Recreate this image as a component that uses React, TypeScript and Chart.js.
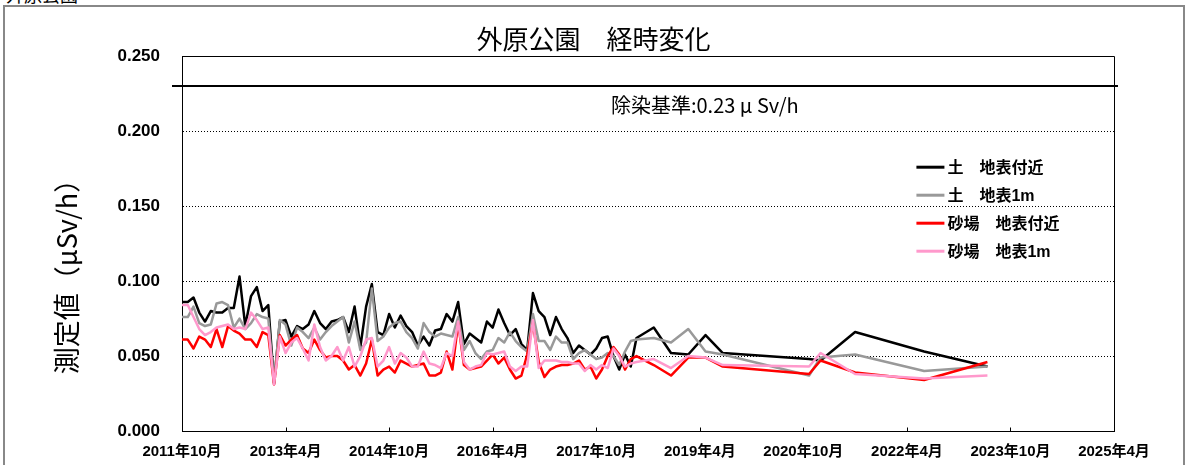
import React, { useEffect, useRef } from "react";
import { Chart, registerables } from "chart.js";

Chart.register(...registerables);

const PAGE_TITLE = "外原公園";
const CHART_TITLE = "外原公園　経時変化";
const Y_TITLE = "測定値（μSv/h）";
const THRESHOLD = 0.23;
const THRESHOLD_LABEL = "除染基準:0.23 μ Sv/h";

const SERIES_NAMES = ["土　地表付近", "土　地表1m", "砂場　地表付近", "砂場　地表1m"];
const SERIES_COLORS = ["#000000", "#999999", "#FF0000", "#FF99CC"];

const AXIS_START = "2011/10";
const AXIS_END = "2025/4";
const TICK_STEP_MONTHS = 18;
const Y_MIN = 0;
const Y_MAX = 0.25;
const Y_STEP = 0.05;

const dates = [
  "2011/10", "2011/11", "2011/12",
  "2012/1", "2012/2", "2012/3", "2012/4", "2012/5", "2012/6", "2012/7", "2012/8", "2012/9", "2012/10", "2012/11", "2012/12",
  "2013/1", "2013/2", "2013/3", "2013/4", "2013/5", "2013/6", "2013/7", "2013/8", "2013/9", "2013/10", "2013/11", "2013/12",
  "2014/1", "2014/2", "2014/3", "2014/4", "2014/5", "2014/6", "2014/7", "2014/8", "2014/9", "2014/10", "2014/11", "2014/12",
  "2015/1", "2015/2", "2015/3", "2015/4", "2015/5", "2015/6", "2015/7", "2015/8", "2015/9", "2015/10", "2015/11", "2015/12",
  "2016/1", "2016/2", "2016/3", "2016/4", "2016/5", "2016/6", "2016/7", "2016/8", "2016/9", "2016/10", "2016/11", "2016/12",
  "2017/1", "2017/2", "2017/3", "2017/4", "2017/5", "2017/6", "2017/7", "2017/8", "2017/9", "2017/10", "2017/11", "2017/12",
  "2018/1", "2018/2", "2018/3", "2018/4", "2018/5",
  "2018/8", "2018/11", "2019/2", "2019/5", "2019/8", "2020/11", "2021/1", "2021/7", "2022/7", "2023/6",
];

const soilSurface = [
  0.086, 0.086, 0.089, 0.079, 0.073, 0.080, 0.079, 0.079, 0.082, 0.082,
  0.103, 0.070, 0.090, 0.096, 0.080, 0.084, 0.032, 0.073, 0.074, 0.063,
  0.070, 0.068, 0.071, 0.080, 0.072, 0.068, 0.073, 0.074, 0.076, 0.066,
  0.083, 0.056, 0.083, 0.098, 0.066, 0.064, 0.078, 0.069, 0.077, 0.070,
  0.066, 0.057, 0.063, 0.057, 0.067, 0.068, 0.078, 0.073, 0.086, 0.058,
  0.065, 0.062, 0.059, 0.073, 0.069, 0.081, 0.072, 0.064, 0.068, 0.058,
  0.054, 0.092, 0.080, 0.076, 0.064, 0.076, 0.068, 0.062, 0.052, 0.057,
  0.054, 0.051, 0.055, 0.062, 0.063, 0.050, 0.041, 0.051, 0.043, 0.062,
  0.069, 0.052, 0.051, 0.064, 0.052, 0.048, 0.047, 0.066, 0.053, 0.043,
];

const soil1m = [
  0.076, 0.076, 0.083, 0.072, 0.070, 0.071, 0.085, 0.086, 0.084, 0.069,
  0.075, 0.068, 0.072, 0.078, 0.076, 0.075, 0.032, 0.074, 0.071, 0.057,
  0.069, 0.066, 0.062, 0.069, 0.061, 0.066, 0.070, 0.073, 0.076, 0.059,
  0.073, 0.054, 0.059, 0.095, 0.060, 0.063, 0.069, 0.072, 0.073, 0.066,
  0.062, 0.055, 0.072, 0.066, 0.063, 0.065, 0.064, 0.063, 0.076, 0.054,
  0.060, 0.052, 0.048, 0.053, 0.054, 0.062, 0.059, 0.066, 0.060, 0.056,
  0.053, 0.078, 0.060, 0.060, 0.054, 0.063, 0.059, 0.059, 0.048, 0.052,
  0.054, 0.051, 0.048, 0.049, 0.052, 0.050, 0.044, 0.053, 0.060, 0.061,
  0.062, 0.059, 0.068, 0.053, 0.051, 0.037, 0.049, 0.051, 0.040, 0.043,
];

const sandSurface = [
  0.061, 0.061, 0.055, 0.063, 0.061, 0.056, 0.068, 0.056, 0.070, 0.067,
  0.065, 0.061, 0.061, 0.056, 0.066, 0.064, 0.031, 0.064, 0.057, 0.061,
  0.064, 0.055, 0.052, 0.061, 0.054, 0.049, 0.050, 0.050, 0.047, 0.041,
  0.044, 0.037, 0.045, 0.061, 0.037, 0.041, 0.043, 0.039, 0.047, 0.045,
  0.043, 0.044, 0.045, 0.037, 0.037, 0.039, 0.053, 0.041, 0.072, 0.044,
  0.041, 0.042, 0.043, 0.047, 0.051, 0.045, 0.049, 0.041, 0.035, 0.037,
  0.051, 0.072, 0.046, 0.036, 0.041, 0.043, 0.044, 0.044, 0.045, 0.047,
  0.041, 0.043, 0.035, 0.041, 0.050, 0.056, 0.051, 0.041, 0.048, 0.050,
  0.044, 0.037, 0.049, 0.049, 0.043, 0.038, 0.047, 0.039, 0.034, 0.046,
];

const sand1m = [
  0.084, 0.084, 0.076, 0.068, 0.064, 0.066, 0.069, 0.070, 0.071, 0.068,
  0.069, 0.068, 0.079, 0.074, 0.068, 0.069, 0.031, 0.063, 0.052, 0.059,
  0.062, 0.055, 0.047, 0.071, 0.056, 0.047, 0.050, 0.056, 0.047, 0.056,
  0.043, 0.050, 0.061, 0.062, 0.043, 0.047, 0.056, 0.045, 0.052, 0.049,
  0.043, 0.043, 0.053, 0.045, 0.044, 0.042, 0.052, 0.050, 0.073, 0.046,
  0.041, 0.043, 0.044, 0.052, 0.051, 0.052, 0.053, 0.043, 0.040, 0.043,
  0.043, 0.074, 0.042, 0.047, 0.047, 0.047, 0.046, 0.046, 0.045, 0.045,
  0.040, 0.044, 0.041, 0.044, 0.042, 0.055, 0.050, 0.043, 0.045, 0.046,
  0.048, 0.042, 0.050, 0.049, 0.044, 0.043, 0.052, 0.038, 0.035, 0.037,
];

const SERIES_VALUES = [soilSurface, soil1m, sandSurface, sand1m];

const parseYM = (s: string) => {
  const [y, m] = s.split("/").map(Number);
  return { y, m };
};
const START = parseYM(AXIS_START);
const toMonthIndex = (s: string) => {
  const { y, m } = parseYM(s);
  return (y - START.y) * 12 + (m - START.m);
};
const monthLabel = (v: number) => {
  const total = START.y * 12 + (START.m - 1) + Math.round(v);
  const y = Math.floor(total / 12);
  const m = (total % 12) + 1;
  return `${y}年${m}月`;
};

const CJK = '"Noto Sans CJK JP", sans-serif';
const NUMFONT = '"Liberation Sans", "Noto Sans CJK JP", sans-serif';

const decorPlugin = {
  id: "decor",
  beforeDatasetsDraw(chart: any) {
    const { ctx, chartArea: a, scales } = chart;
    const xs = scales.x;
    const ys = scales.y;
    ctx.save();
    ctx.setLineDash([]);
    ctx.strokeStyle = "#000";
    ctx.lineWidth = 1;
    const L = Math.round(a.left) + 0.5;
    const T = Math.round(a.top) + 0.5;
    const R = Math.round(a.right) + 0.5;
    const B = Math.round(a.bottom) + 0.5;
    ctx.beginPath();
    ctx.moveTo(L, T);
    ctx.lineTo(R, T);
    ctx.lineTo(R, B);
    ctx.stroke();
    // small inner ticks on the x axis
    ctx.beginPath();
    xs.ticks.forEach((t: any) => {
      const px = Math.round(xs.getPixelForValue(t.value)) + 0.5;
      ctx.moveTo(px, B);
      ctx.lineTo(px, B - 4);
    });
    ctx.stroke();
    // threshold line
    const ty = Math.round(ys.getPixelForValue(THRESHOLD));
    ctx.lineWidth = 2;
    ctx.beginPath();
    ctx.moveTo(a.left - 10, ty);
    ctx.lineTo(a.right + 4, ty);
    ctx.stroke();
    ctx.fillStyle = "#000";
    ctx.font = `20px ${CJK}`;
    ctx.textAlign = "center";
    ctx.textBaseline = "middle";
    ctx.fillText(THRESHOLD_LABEL, a.left + (a.right - a.left) * 0.561, ty + 19);
    ctx.restore();
  },
  afterDraw(chart: any) {
    const { ctx, chartArea: a } = chart;
    ctx.save();
    // legend
    const lx = a.left + (a.right - a.left) * 0.788;
    const ly = a.top + 111;
    ctx.font = `bold 16px ${NUMFONT}`;
    ctx.textAlign = "left";
    ctx.textBaseline = "middle";
    chart.data.datasets.forEach((ds: any, i: number) => {
      const yy = ly + i * 28;
      ctx.strokeStyle = ds.borderColor;
      ctx.lineWidth = 3;
      ctx.beginPath();
      ctx.moveTo(lx, yy);
      ctx.lineTo(lx + 28, yy);
      ctx.stroke();
      ctx.fillStyle = "#000";
      ctx.fillText(ds.label, lx + 31, yy + 1);
    });
    // y axis title
    ctx.translate(67, 270);
    ctx.rotate(-Math.PI / 2);
    ctx.font = `27px ${CJK}`;
    ctx.textAlign = "center";
    ctx.fillStyle = "#000";
    ctx.fillText(Y_TITLE, 0, 0);
    ctx.restore();
  },
};

export default function App() {
  const canvasRef = useRef<HTMLCanvasElement | null>(null);

  useEffect(() => {
    if (!canvasRef.current) return;
    const xVals = dates.map(toMonthIndex);
    const chart = new Chart(canvasRef.current, {
      type: "line",
      data: {
        datasets: SERIES_NAMES.map((name, i) => ({
          label: name,
          data: SERIES_VALUES[i].map((v, k) => ({ x: xVals[k], y: v })),
          borderColor: SERIES_COLORS[i],
          backgroundColor: SERIES_COLORS[i],
          borderWidth: 2.5,
          pointRadius: 0,
          tension: 0,
          fill: false,
          borderJoinStyle: "round",
          order: SERIES_NAMES.length - i,
        })),
      },
      options: {
        animation: false,
        responsive: false,
        maintainAspectRatio: false,
        devicePixelRatio: 1,
        layout: { padding: { left: 73, right: 73, top: 0, bottom: 0 } },
        plugins: {
          legend: { display: false },
          tooltip: { enabled: false },
          title: {
            display: true,
            text: CHART_TITLE,
            color: "#000",
            font: { family: CJK, size: 26, weight: "normal" },
            padding: { top: 24, bottom: 1 },
          },
        },
        scales: {
          x: {
            type: "linear",
            min: toMonthIndex(AXIS_START),
            max: toMonthIndex(AXIS_END),
            ticks: {
              stepSize: TICK_STEP_MONTHS,
              autoSkip: false,
              maxRotation: 0,
              padding: 12,
              color: "#000",
              font: { family: NUMFONT, size: 15, weight: "bold" },
              callback: (v: any) => monthLabel(Number(v)),
            },
            grid: { display: false, drawTicks: false },
            border: { display: true, color: "#000", width: 1 },
            afterFit: (s: any) => {
              s.height = 34;
            },
          },
          y: {
            min: Y_MIN,
            max: Y_MAX,
            ticks: {
              stepSize: Y_STEP,
              padding: 22,
              color: "#000",
              font: { family: NUMFONT, size: 17, weight: "bold" },
              callback: (v: any) => Number(v).toFixed(3),
            },
            grid: { color: "#000", lineWidth: 1, drawTicks: false },
            border: { display: true, color: "#000", width: 1, dash: [1, 2] },
            afterFit: (s: any) => {
              s.width = 109;
            },
          },
        },
      },
      plugins: [decorPlugin],
    } as any);
    return () => chart.destroy();
  }, []);

  return (
    <div style={{ position: "absolute", left: 0, top: 0, width: 1187, height: 465, overflow: "hidden", background: "#fff" }}>
      <div
        style={{
          position: "absolute",
          left: 6,
          top: -15,
          fontFamily: CJK,
          fontSize: 18,
          lineHeight: "18px",
          color: "#000",
          whiteSpace: "nowrap",
        }}
      >
        {PAGE_TITLE}
      </div>
      <div
        style={{
          position: "absolute",
          left: 3,
          top: 5,
          width: 1182,
          height: 480,
          border: "2px solid #888",
          boxSizing: "border-box",
        }}
      />
      <canvas ref={canvasRef} width={1187} height={465} style={{ position: "absolute", left: 0, top: 0, display: "block" }} />
    </div>
  );
}
